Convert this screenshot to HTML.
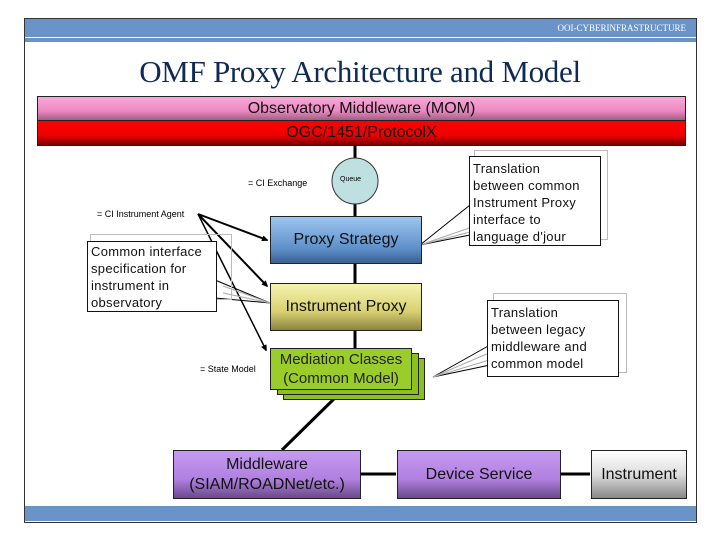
<!DOCTYPE html>
<html><head><style>
body{margin:0;width:720px;height:540px;background:#fff;position:relative;overflow:hidden;font-family:"Liberation Sans",sans-serif}
.a{position:absolute}
.box{position:absolute;border:1px solid #222;display:flex;align-items:center;justify-content:center;text-align:center;color:#111}
.call{position:absolute;background:#fff;border:1px solid #111;font-size:13px;line-height:17px;padding:1px 3px;box-sizing:border-box;color:#111;white-space:nowrap;letter-spacing:0.3px}
.sh{position:absolute;border:1px solid #bbb}
</style></head><body>
<div class="a" style="left:24px;top:18px;width:673px;height:505px;border:1px solid #333;box-sizing:border-box"></div>
<div class="a" style="left:25px;top:19px;width:671px;height:23px;background:#6a93c8"></div>
<div class="a" style="left:25px;top:37px;width:671px;height:1px;background:#fff"></div>
<div class="a" style="right:34px;top:23px;font-family:'Liberation Serif',serif;font-size:9px;color:#fff">OOI-CYBERINFRASTRUCTURE</div>
<div class="a" style="left:0;width:720px;top:54px;text-align:center;font-family:'Liberation Serif',serif;font-size:31px;color:#0f2a55;letter-spacing:-0.3px">OMF Proxy Architecture and Model</div>
<div class="box" style="left:37px;top:96px;width:647px;height:23px;background:linear-gradient(#f6a9d6,#ee88c4 60%,#a06080);font-size:16px">Observatory Middleware (MOM)</div>
<div class="box" style="left:37px;top:120px;width:647px;height:24px;background:linear-gradient(#f00,#e00 60%,#700);font-size:16px">OGC/1451/ProtocolX</div>
<div class="a" style="left:25px;top:506px;width:671px;height:15px;background:#6a93c8"></div>
<svg class="a" style="left:0;top:0" width="720" height="540">
<defs><marker id="m" markerWidth="6" markerHeight="6" refX="5" refY="3" orient="auto" markerUnits="userSpaceOnUse"><path d="M0,0 L7,3 L0,6z" fill="#000"/></marker></defs>
<line x1="355" y1="145" x2="355" y2="392" stroke="#000" stroke-width="3"/>
<line x1="340" y1="393" x2="282" y2="450" stroke="#000" stroke-width="3"/>
<line x1="360" y1="474" x2="396" y2="474" stroke="#000" stroke-width="3"/>
<line x1="560" y1="474" x2="590" y2="474" stroke="#000" stroke-width="3"/>
<circle cx="355" cy="181" r="23" fill="#bfe0e0" stroke="#333"/>
<line x1="198" y1="214" x2="267" y2="240" stroke="#000" stroke-width="2" marker-end="url(#m)"/>
<line x1="198" y1="214" x2="267" y2="286" stroke="#000" stroke-width="2" marker-end="url(#m)"/>
<line x1="198" y1="214" x2="266" y2="350" stroke="#000" stroke-width="1.5" marker-end="url(#m)"/>
<polyline points="215,280 270,303 215,298" fill="none" stroke="#000"/>
<polyline points="223,286 270,303 223,293" fill="none" stroke="#aaa"/>
<polyline points="470,205 420,245 470,235" fill="none" stroke="#000"/>
<polyline points="478,225 420,245 478,230" fill="none" stroke="#aaa"/>
<polyline points="490,345 433,377 490,365" fill="none" stroke="#000"/>
<polyline points="496,350 433,377 496,358" fill="none" stroke="#aaa"/>
</svg>
<div class="a" style="left:340px;top:176px;font-size:7px">Queue</div>
<div class="a" style="left:248px;top:178px;font-size:9px">= CI Exchange</div>
<div class="a" style="left:97px;top:209px;font-size:9px">= CI Instrument Agent</div>
<div class="a" style="left:200px;top:364px;font-size:9px">= State Model</div>
<div class="box" style="left:270px;top:216px;width:150px;height:46px;background:linear-gradient(#9dc6f0,#5c8ec8 70%,#3a5f90);font-size:16px">Proxy Strategy</div>
<div class="box" style="left:270px;top:283px;width:150px;height:46px;background:linear-gradient(#f5f3b0,#d8d070 60%,#8a8440);font-size:16px">Instrument Proxy</div>
<div class="box" style="left:283px;top:358px;width:140px;height:40px;background:#8cc020"></div>
<div class="box" style="left:277px;top:353px;width:140px;height:40px;background:#8cc020"></div>
<div class="box" style="left:270px;top:348px;width:140px;height:40px;background:#9acd2a;font-size:15px;line-height:19px;color:#222">Mediation Classes<br>(Common Model)</div>
<div class="box" style="left:173px;top:450px;width:186px;height:47px;background:linear-gradient(#c69bf2,#b080e0 60%,#6a4a8a);font-size:16px;line-height:20px">Middleware<br>(SIAM/ROADNet/etc.)</div>
<div class="box" style="left:397px;top:450px;width:162px;height:47px;background:linear-gradient(#c69bf2,#b080e0 60%,#6a4a8a);font-size:16px">Device Service</div>
<div class="box" style="left:591px;top:450px;width:94px;height:47px;background:linear-gradient(#fff,#ddd 50%,#888);font-size:16px">Instrument</div>
<div class="sh" style="left:90px;top:234px;width:140px;height:64px"></div>
<div class="call" style="left:87px;top:241px;width:130px;height:71px">Common interface<br>specification for<br>instrument in<br>observatory</div>
<div class="sh" style="left:474px;top:150px;width:132px;height:88px"></div>
<div class="call" style="left:469px;top:156px;width:132px;height:90px;padding-top:3px">Translation<br>between common<br>Instrument Proxy<br>interface to<br>language d'jour</div>
<div class="sh" style="left:493px;top:293px;width:132px;height:78px"></div>
<div class="call" style="left:487px;top:300px;width:132px;height:77px;padding-top:3px">Translation<br>between legacy<br>middleware and<br>common model</div>
</body></html>
